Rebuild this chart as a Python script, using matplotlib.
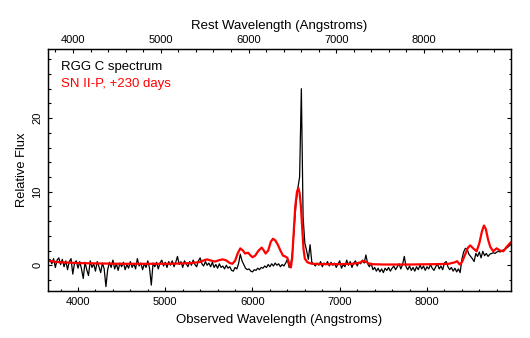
import numpy as np
import matplotlib
matplotlib.use("Agg")
from matplotlib import pyplot as plt
from matplotlib.ticker import MultipleLocator

plt.rcParams["font.family"] = ["Liberation Sans", "DejaVu Sans"]

# RGG C spectrum, sampled every 20 A from 3660 to 8960 A
black_start, black_step = 3660, 20
black_flux = [
    0.4, 0.8, 0.2, 0.9, -0.3, 0.7, 1.0, 0.1, 0.8, -0.2,      # 3660
    0.6, -0.6, 0.5, 0.9, -1.2, 0.3, 0.6, -0.4, 0.5, -0.5,    # 3860
    -1.8, 0.4, -0.6, -1.4, 0.6, -0.3, 0.2, -0.8, 0.5, -0.2,  # 4060
    -1.0, 0.3, -0.5, -2.9, -0.6, 0.4, -0.3, 0.7, -0.5, 0.2,  # 4260
    -0.7, 0.3, -0.2, 0.4, -0.6, 0.1, -0.4, 0.5, -0.3, 0.2,   # 4460
    -0.5, 0.9, -0.1, 0.3, -0.6, 0.2, -0.3, 0.6, -0.4, -2.7,  # 4660
    0.3, -0.2, 0.4, -0.5, 0.3, 0.7, -0.1, 0.4, -0.3, 0.5,    # 4860
    0.0, 0.6, -0.2, 0.4, 1.2, 0.1, 0.5, -0.3, 0.6, 0.2,      # 5060
    -0.2, 0.5, 0.0, 0.7, 0.1, -0.2, 0.6, 1.0, 0.2, -0.1,     # 5260
    0.5, 0.0, 0.3, -0.2, 0.4, -0.3, 0.1, -0.4, 0.2, -0.3,    # 5460
    -0.1, -0.5, 0.0, -0.4, -0.2, -0.7, -0.8, -0.3, -0.5, 0.2,  # 5660
    1.5, 0.6, 0.1, -0.4, -0.6, -0.5, -0.8, -0.9, -0.6, -0.7,   # 5860
    -0.4, -0.6, -0.3, -0.4, -0.1, -0.3, 0.1, -0.2, 0.2, -0.1,  # 6060
    0.3, 0.0, 0.2, -0.2, 0.1, -0.1, 0.3, 0.8, -0.3, 0.2,     # 6260
    2.0, 5.5, 8.5, 10.5, 12.0, 24.0, 6.5, 3.0, 2.0, 0.8,     # 6460
    2.8, 0.4, 0.2, -0.1, 0.3, 0.0, 0.5, -0.2, 0.3, 0.1,      # 6660
    0.5, -0.1, 0.4, 0.0, 0.3, -0.3, 0.2, 0.6, -0.4, 0.1,     # 6860
    -0.2, 0.7, 0.0, 0.5, -0.3, 0.3, 0.6, -0.1, 0.4, 0.2,     # 7060
    0.7, 0.3, 1.4, 0.2, -0.2, 0.3, -0.6, -0.3, -0.8, -0.4,   # 7260
    -0.9, -0.5, -1.0, -0.4, -0.7, -0.3, -0.8, -0.4, -0.1, -0.6,  # 7460
    -0.2, 0.2, -0.5, 0.1, 1.2, -0.2, -0.6, -0.1, -0.7, -0.3,   # 7660
    -0.8, -0.2, -0.6, 0.0, -0.5, -0.1, -0.7, -0.2, -0.5, 0.1,  # 7860
    -0.4, -0.7, -0.2, 0.2, -0.5, -0.1, -0.6, 0.3, 0.5, -0.2,   # 8060
    -0.6, -0.3, -0.8, -0.4, -0.9, -0.5, -1.0, 0.8, 1.8, 2.3,   # 8260
    2.2, 1.5, 1.2, 0.9, 0.5, 1.6, 1.2, 1.8, 1.0, 1.9,        # 8460
    1.3, 1.6, 1.2, 1.5, 1.6, 1.7, 1.6, 1.8, 1.9, 1.8,        # 8660
    2.0, 2.1, 2.2, 2.4, 2.6, 2.8,                            # 8860
]
black_wave = black_start + black_step * np.arange(len(black_flux))

# SN II-P template at +230 days
red_wave = [3660, 3700, 3750, 3800, 3900, 4000, 4200, 4500, 4800, 5000,
            5200, 5300, 5400, 5450, 5480, 5520, 5570, 5620, 5660, 5700,
            5740, 5770, 5800, 5830, 5860, 5890, 5915, 5950, 5980, 6000,
            6030, 6070, 6105, 6130, 6150, 6180, 6210, 6235, 6260, 6290,
            6320, 6350, 6375, 6400, 6425, 6440, 6455, 6470, 6490, 6510,
            6525, 6540, 6555, 6570, 6585, 6600, 6630, 6680, 6800, 7000,
            7150, 7230, 7270, 7310, 7350, 7500, 7800, 8100, 8250, 8320,
            8345, 8375, 8400, 8435, 8470, 8495, 8530, 8569, 8600, 8630,
            8653, 8675, 8700, 8725, 8760, 8798, 8837, 8875, 8913, 8960]
red_flux = [0.6, 0.55, 0.45, 0.4, 0.35, 0.3, 0.25, 0.2, 0.2, 0.2,
            0.25, 0.3, 0.45, 0.7, 0.8, 0.65, 0.5, 0.7, 0.8, 0.65,
            0.3, 0.2, 0.6, 1.6, 2.3, 2.0, 1.6, 1.7, 1.3, 1.1,
            1.3, 2.0, 2.4, 2.0, 1.6, 2.0, 3.2, 3.6, 3.4, 2.8,
            2.0, 1.3, 1.2, 1.0, 0.0, -0.3, 1.0, 4.0, 8.0, 10.0,
            10.5, 9.8, 8.0, 5.0, 2.2, 0.9, 0.4, 0.2, 0.15, 0.15,
            0.2, 0.35, 0.6, 0.4, 0.15, 0.1, 0.1, 0.15, 0.2, 0.4,
            0.55, 0.1, 0.4, 1.4, 2.4, 2.7, 2.3, 1.9, 3.0, 4.6,
            5.4, 4.9, 3.5, 2.5, 1.9, 2.3, 2.0, 1.9, 2.5, 3.1]

fig = plt.figure(figsize=(5.30, 3.38), dpi=100)
ax = fig.add_axes([48 / 530, 1 - 291 / 338, 463 / 530, 242 / 338])

ax.plot(black_wave, black_flux, color="black", lw=0.9)
ax.plot(red_wave, red_flux, color="red", lw=1.6)

ax.set_xlim(3656, 8963)
ax.set_ylim(-3.5, 29.4)
ax.xaxis.set_major_locator(MultipleLocator(1000))
ax.xaxis.set_minor_locator(MultipleLocator(200))
ax.yaxis.set_major_locator(MultipleLocator(10))
ax.yaxis.set_minor_locator(MultipleLocator(2))
ax.tick_params(which="both", direction="in", right=True, labelsize=8, width=0.8)
ax.tick_params(which="major", length=3, pad=4)
ax.tick_params(which="minor", length=1.8)
ax.tick_params(axis="y", labelrotation=90)
for lbl in ax.get_yticklabels():
    lbl.set_va("center")
ax.set_xlabel("Observed Wavelength (Angstroms)", fontsize=9.5, labelpad=5)
ax.set_ylabel("Relative Flux", fontsize=9.3, labelpad=3)

top = ax.twiny()
top.set_xlim(3715, 8991)
top.xaxis.set_major_locator(MultipleLocator(1000))
top.xaxis.set_minor_locator(MultipleLocator(200))
top.tick_params(which="both", direction="in", labelsize=8, width=0.8)
top.tick_params(which="major", length=3, pad=3)
top.tick_params(which="minor", length=1.8)
top.set_xlabel("Rest Wavelength (Angstroms)", fontsize=9.5, labelpad=4)

for a in (ax, top):
    for s in a.spines.values():
        s.set_linewidth(0.9)

ax.text(0.028, 0.925, "RGG C spectrum", transform=ax.transAxes, fontsize=9.5,
        color="black", va="center")
ax.text(0.028, 0.855, "SN II-P, +230 days", transform=ax.transAxes, fontsize=9.5,
        color="red", va="center")

fig.savefig("out.png", dpi=100)
